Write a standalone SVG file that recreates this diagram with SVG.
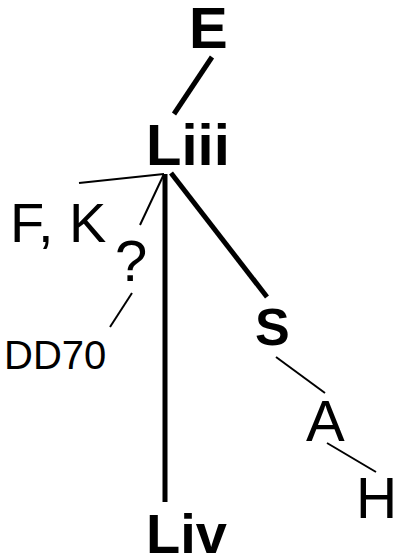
<svg xmlns="http://www.w3.org/2000/svg" width="395" height="557" viewBox="0 0 395 557">
<style>
text{font-family:"Liberation Sans",Arial,sans-serif;fill:#000}
.b{font-weight:bold}
.thick{stroke:#000;stroke-width:5;fill:none}
.thin{stroke:#000;stroke-width:2;fill:none}
</style>
<rect width="395" height="557" fill="#fff"/>
<g id="connectors">
<line class="thick" x1="212" y1="57" x2="174" y2="114"/>
<line class="thin" x1="164" y1="174" x2="79" y2="183"/>
<line class="thin" x1="164" y1="174" x2="140" y2="225"/>
<line class="thick" x1="165" y1="174" x2="165" y2="502"/>
<line class="thick" x1="171" y1="173" x2="267" y2="297"/>
<line class="thin" x1="132" y1="293" x2="110" y2="327"/>
<line class="thin" x1="276" y1="357" x2="325" y2="393"/>
<line class="thin" x1="327" y1="443" x2="376" y2="472"/>
</g>
<g id="E"><text class="b" x="189" y="48" font-size="58">E</text></g>
<g id="Liii"><text class="b" x="146" y="165" font-size="58">Liii</text></g>
<g id="FK"><text x="10" y="242" font-size="56">F, K</text></g>
<g id="Q"><text x="115" y="281" font-size="58">?</text></g>
<g id="DD70"><text x="4" y="369" font-size="40">DD70</text></g>
<g id="S"><text class="b" x="255" y="345" font-size="52">S</text></g>
<g id="A"><text x="306" y="441" font-size="58">A</text></g>
<g id="H"><text x="356" y="518" font-size="57">H</text></g>
<g id="Liv"><text class="b" x="146" y="553" font-size="56">Liv</text></g>
</svg>
